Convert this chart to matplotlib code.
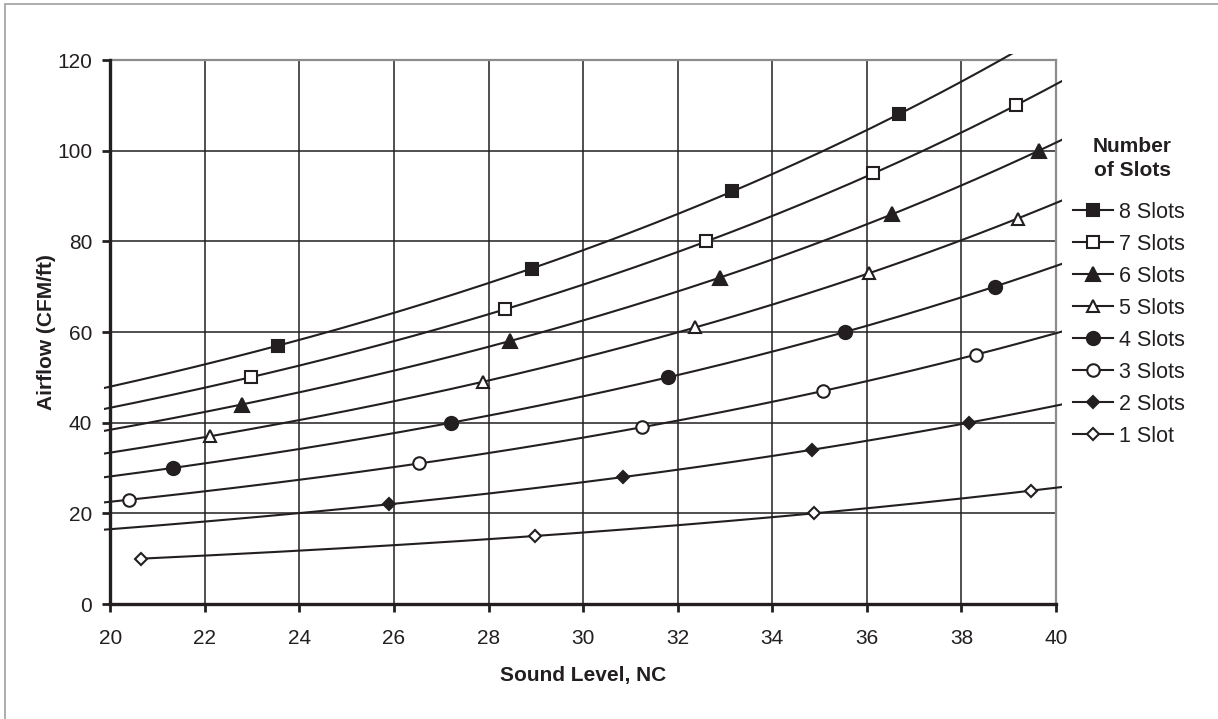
import numpy as np
import matplotlib
matplotlib.use("Agg")
import matplotlib.pyplot as plt
from matplotlib.patches import Rectangle
from matplotlib.lines import Line2D

plt.rcParams['font.family'] = ['Liberation Sans', 'DejaVu Sans']

# ---------------- data ----------------
series_labels = ["8 Slots", "7 Slots", "6 Slots", "5 Slots",
                 "4 Slots", "3 Slots", "2 Slots", "1 Slot"]

nc_8 = [23.55, 28.91, 33.15, 36.67]
cfm_8 = [57, 74, 91, 108]
nc_7 = [22.97, 28.34, 32.60, 36.14, 39.16]
cfm_7 = [50, 65, 80, 95, 110]
nc_6 = [22.78, 28.45, 32.89, 36.54, 39.64]
cfm_6 = [44, 58, 72, 86, 100]
nc_5 = [22.11, 27.88, 32.36, 36.05, 39.19]
cfm_5 = [37, 49, 61, 73, 85]
nc_4 = [21.32, 27.21, 31.80, 35.54, 38.70]
cfm_4 = [30, 40, 50, 60, 70]
nc_3 = [20.40, 26.54, 31.25, 35.08, 38.30]
cfm_3 = [23, 31, 39, 47, 55]
nc_2 = [25.90, 30.85, 34.83, 38.16]
cfm_2 = [22, 28, 34, 40]
nc_1 = [20.65, 28.98, 34.89, 39.47]
cfm_1 = [10, 15, 20, 25]

x_ticks = [20, 22, 24, 26, 28, 30, 32, 34, 36, 38, 40]
y_ticks = [0, 20, 40, 60, 80, 100, 120]
legend_title = 'Number\nof Slots'

xs_all = [nc_8, nc_7, nc_6, nc_5, nc_4, nc_3, nc_2, nc_1]
ys_all = [cfm_8, cfm_7, cfm_6, cfm_5, cfm_4, cfm_3, cfm_2, cfm_1]

# ---------------- styles ----------------
INK = '#231f20'
styles = [
    dict(marker='s', ms=8.5, mfc=INK),
    dict(marker='s', ms=8.0, mfc='white'),
    dict(marker='^', ms=9.5, mfc=INK),
    dict(marker='^', ms=9.0, mfc='white'),
    dict(marker='o', ms=9.5, mfc=INK),
    dict(marker='o', ms=9.0, mfc='white'),
    dict(marker='D', ms=6.5, mfc=INK),
    dict(marker='D', ms=6.0, mfc='white'),
]
trend_start = [19.87, 19.87, 19.87, 19.87, 19.87, 19.87, 19.87, None]
trend_end = 40.14

fig = plt.figure(figsize=(12.18, 7.19), dpi=100)
ax = fig.add_axes([110.2 / 1218, 1 - 604 / 719, 945.8 / 1218, 544 / 719])

# outer frame
fig.patches.append(Rectangle((5 / 1218, -0.05), 1.2, 1 - 4 / 719 + 0.05,
                             transform=fig.transFigure, fill=False,
                             edgecolor='#a0a0a0', linewidth=1.2, zorder=0))

clip = Rectangle((-0.0066, -0.02), 1.013, 1.031, transform=ax.transAxes)

handles = []
for xs, ys, st, x0, lab in zip(xs_all, ys_all, styles, trend_start, series_labels):
    xs = np.asarray(xs, float)
    ys = np.asarray(ys, float)
    b, a = np.polyfit(xs, np.log(ys), 1)
    start = xs[0] if x0 is None else x0
    xx = np.linspace(start, trend_end, 200)
    ln, = ax.plot(xx, np.exp(a + b * xx), color=INK, lw=1.5, zorder=3, clip_on=True)
    ln.set_clip_path(clip)
    ax.plot(xs, ys, linestyle='none', marker=st['marker'], ms=st['ms'],
            mfc=st['mfc'], mec=INK, mew=1.5, zorder=4, clip_on=False)
    handles.append(Line2D([], [], color=INK, lw=1.5, marker=st['marker'],
                          ms=st['ms'], mfc=st['mfc'], mec=INK, mew=1.5))

ax.set_xlim(20, 40)
ax.set_ylim(0, 120)
ax.set_xticks(x_ticks)
ax.set_yticks(y_ticks)
ax.grid(True, color=INK, lw=1.1)
ax.set_axisbelow(True)

for s in ['left', 'bottom']:
    ax.spines[s].set_color(INK)
    ax.spines[s].set_linewidth(2.4)
    ax.spines[s].set_zorder(5)
for s in ['top', 'right']:
    ax.spines[s].set_color('#8c8c8c')
    ax.spines[s].set_linewidth(1.6)

ax.tick_params(axis='both', direction='out', length=6, width=2.0, color=INK,
               labelsize=15, labelcolor=INK)
ax.tick_params(axis='y', pad=7)
ax.tick_params(axis='x', pad=12)

ax.set_xlabel('Sound Level, NC', fontsize=15, fontweight='bold', color=INK, labelpad=13)
ax.set_ylabel('Airflow (CFM/ft)', fontsize=15, fontweight='bold', color=INK, labelpad=1)

fig.text(1132 / 1218, 1 - 158.5 / 719, legend_title, ha='center', va='center',
         fontsize=15, fontweight='bold', color=INK, linespacing=1.3)

leg = fig.legend(handles, series_labels, loc='upper left',
                 bbox_to_anchor=(1073 / 1218, 1 - 202 / 719),
                 frameon=False, fontsize=15.5, handlelength=1.85,
                 handletextpad=0.3, labelspacing=0.51, borderpad=0,
                 borderaxespad=0)
for t in leg.get_texts():
    t.set_color(INK)

fig.savefig('out.png', dpi=100)
